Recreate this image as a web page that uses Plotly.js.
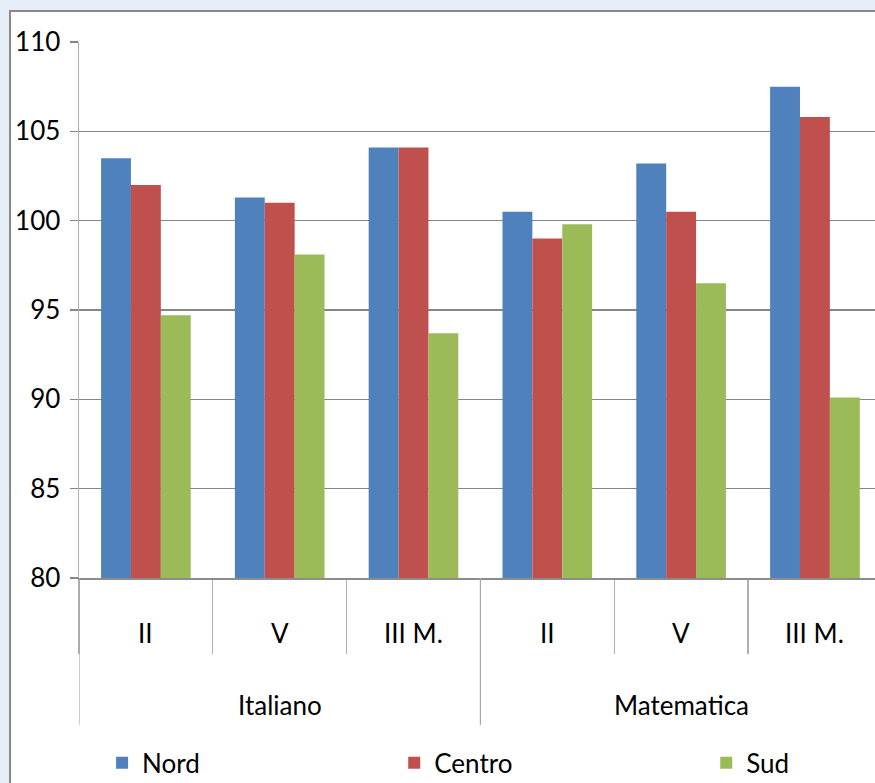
<!DOCTYPE html>
<html>
<head>
<meta charset="utf-8">
<script src="https://cdn.plot.ly/plotly-3.0.1.min.js"></script>
<style>
  html, body { margin: 0; padding: 0; background: #e6eef8; overflow: hidden; }
  #panel {
    position: absolute; left: 9px; top: 10px;
    width: 864px; height: 800px;
    background: #ffffff;
    border-left: 2px solid #8a8a8a;
    border-top: 2px solid #8a8a8a;
  }
</style>
</head>
<body>
<div id="panel"></div>
<script>
// Subjects (outer level) and school grades (inner level)
const subjects = ['Italiano', 'Italiano', 'Italiano', 'Matematica', 'Matematica', 'Matematica'];
const grades = ['II', 'V', 'III M.', 'II', 'V', 'III M.'];

// Scores by area
const nord = [103.5, 101.3, 104.1, 100.5, 103.2, 107.5];
const centro = [102.0, 101.0, 104.1, 99.0, 100.5, 105.8];
const sud = [94.7, 98.1, 93.7, 99.8, 96.5, 90.1];

const seriesNames = ['Nord', 'Centro', 'Sud'];
const seriesValues = [nord, centro, sud];
const seriesColors = ['#4f81bd', '#c0504d', '#9bbb59'];
const legendIds = ['legend', 'legend2', 'legend3'];

const FONT = 'Lato, "Open Sans", sans-serif';
const textFont = { family: FONT, size: 26, color: '#000000' };

// Plot box in pixels, used to express the label rows in paper units
const PLOT_H = 536;
const gradeRow = -55 / PLOT_H;      // centre of the grade labels
const subjectRow = -127 / PLOT_H;   // centre of the subject labels
const dividerEnd = -147 / PLOT_H;   // bottom of the subject dividers

const traces = seriesNames.map((name, i) => ({
  type: 'bar',
  name: name,
  x: [subjects, grades],
  y: seriesValues[i],
  marker: { color: seriesColors[i], line: { width: 0 } },
  legend: legendIds[i],
  hoverinfo: 'skip'
}));

// Grade labels, one under each group of bars
const gradeLabels = grades.map((g, i) => ({
  xref: 'x', yref: 'paper',
  x: i, y: gradeRow,
  text: g,
  showarrow: false,
  xanchor: 'center', yanchor: 'middle',
  font: textFont
}));

// Subject groups: first/last index of each run of equal subjects
const groups = [];
subjects.forEach((s, i) => {
  if (i === 0 || subjects[i - 1] !== s) groups.push({ name: s, first: i, last: i });
  else groups[groups.length - 1].last = i;
});

const subjectLabels = groups.map(g => ({
  xref: 'x', yref: 'paper',
  x: (g.first + g.last) / 2, y: subjectRow,
  text: g.name,
  showarrow: false,
  xanchor: 'center', yanchor: 'middle',
  font: textFont
}));

const dividers = groups.map(g => ({
  type: 'line',
  xref: 'x', yref: 'paper',
  x0: g.first - 0.5, x1: g.first - 0.5,
  y0: 0, y1: dividerEnd,
  line: { color: '#a8a8a8', width: 1.2 }
}));

const legendBase = {
  orientation: 'h',
  bgcolor: 'rgba(0,0,0,0)',
  font: textFont,
  yanchor: 'middle',
  y: -0.345,
  xanchor: 'left'
};

const layout = {
  width: 864,
  height: 800,
  margin: { l: 68, r: 0, t: 30, b: 234 },
  paper_bgcolor: '#ffffff',
  plot_bgcolor: '#ffffff',
  barmode: 'group',
  bargap: 0.33,
  bargroupgap: 0,
  font: textFont,
  showlegend: true,
  legend: Object.assign({}, legendBase, { x: 0.029 }),
  legend2: Object.assign({}, legendBase, { x: 0.396 }),
  legend3: Object.assign({}, legendBase, { x: 0.788 }),
  annotations: gradeLabels.concat(subjectLabels),
  shapes: dividers,
  // Grade separators are the boundary ticks of the category axis
  xaxis: {
    type: 'multicategory',
    range: [-0.5, 5.449],
    showline: true,
    linecolor: '#8c8c8c',
    linewidth: 1.5,
    ticks: 'outside',
    tickson: 'boundaries',
    ticklen: 74,
    tickwidth: 1.2,
    tickcolor: '#b0b0b0',
    showticklabels: false,
    showdividers: false,
    showgrid: false,
    zeroline: false,
    fixedrange: true
  },
  yaxis: {
    range: [80, 110],
    tick0: 80,
    dtick: 5,
    showline: true,
    linecolor: '#b0b0b0',
    linewidth: 1.5,
    ticks: 'outside',
    ticklen: 8,
    tickwidth: 1.5,
    tickcolor: '#868686',
    ticklabelstandoff: 4,
    showgrid: true,
    gridcolor: '#868686',
    gridwidth: 1.5,
    zeroline: false,
    tickfont: textFont,
    fixedrange: true
  }
};

Plotly.newPlot('panel', traces, layout, { displayModeBar: false, staticPlot: true });
</script>
</body>
</html>
